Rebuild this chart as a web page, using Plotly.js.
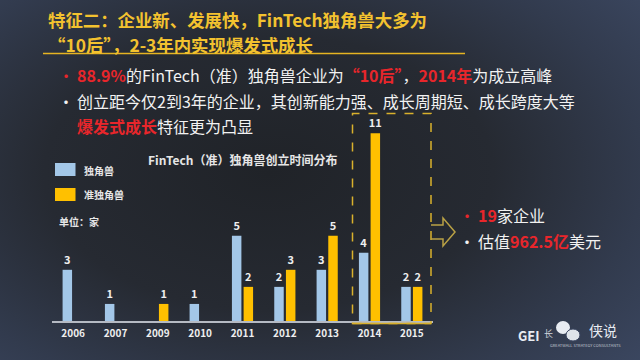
<!DOCTYPE html>
<html>
<head>
<meta charset="utf-8">
<script src="https://cdn.plot.ly/plotly-3.0.1.min.js"></script>
<style>
html,body{margin:0;padding:0;width:640px;height:360px;overflow:hidden;}
body{background:radial-gradient(ellipse 78% 85% at 42% 48%, #202328 0%, #262a32 45%, #323b4e 75%, #3c4862 100%);}
#chart{width:640px;height:360px;}
</style>
</head>
<body>
<div id="chart"></div>
<script>
// ---- data ----
const years = ['2006','2007','2009','2010','2011','2012','2013','2014','2015'];
const unicorn = [3, 1, null, 1, 5, 2, 3, 4, 2];
const quasiUnicorn = [null, null, 1, null, 2, 3, 5, 11, 2];
const seriesNames = ['独角兽', '准独角兽'];

const BLUE = '#a3c7e8', YELLOW = '#ffc000', RED = '#e8262b', GOLD = '#f3c22f';
const FONT = '"Noto Sans CJK SC", "Noto Sans", sans-serif';

// plot area pixel geometry (for decorations)
const L = 52, R = 433, T = 100, B = 321;
const X = px => (px - L) / (R - L);
const Y = py => (B - py) / (B - T);

const lbl = arr => arr.map(v => v == null ? '' : String(v));

const traces = [
  {type:'bar', name:seriesNames[0], x:years, y:unicorn, text:lbl(unicorn),
   textposition:'outside', constraintext:'none', marker:{color:BLUE}, width:0.224, offset:-0.25,
   textfont:{color:'#eeeeee', size:11, family:FONT, weight:'bold'}, cliponaxis:false, hoverinfo:'none'},
  {type:'bar', name:seriesNames[1], x:years, y:quasiUnicorn, text:lbl(quasiUnicorn),
   textposition:'outside', constraintext:'none', marker:{color:YELLOW}, width:0.224, offset:0.026,
   textfont:{color:'#eeeeee', size:11, family:FONT, weight:'bold'}, cliponaxis:false, hoverinfo:'none'}
];

function ann(px, py, text, size, color, extra){
  return Object.assign({xref:'paper', yref:'paper', x:X(px), y:Y(py), text:text,
    showarrow:false, xanchor:'left', yanchor:'middle',
    font:{family:FONT, size:size, color:color}}, extra||{});
}
const r = s => '<span style="color:'+RED+'"><b>'+s+'</b></span>';

const annotations = [
  ann(46, 19, '<b>特征二：企业新、发展快，FinTech独角兽大多为</b>', 17.4, GOLD),
  ann(46, 44, '<b>“10后”，2-3年内实现爆发式成长</b>', 17.4, GOLD),
  ann(56, 75, '•', 16, RED),
  ann(75, 75, r('88.9%')+'的FinTech（准）独角兽企业为'+r('“10后”')+'，'+r('2014年')+'为成立高峰', 16, '#f2f2f2'),
  ann(56, 101, '•', 16, '#f2f2f2'),
  ann(75, 101, '创立距今仅2到3年的企业，其创新能力强、成长周期短、成长跨度大等', 16, '#f2f2f2'),
  ann(75, 126, r('爆发式成长')+'特征更为凸显', 16, '#f2f2f2'),
  ann(146, 159, '<b>FinTech（准）独角兽创立时间分布</b>', 12, '#e6e6e6'),
  ann(82, 170, '<b>'+seriesNames[0]+'</b>', 10, '#e6e6e6'),
  ann(82, 194, '<b>'+seriesNames[1]+'</b>', 10, '#e6e6e6'),
  ann(57, 221, '<b>单位：家</b>', 10, '#e6e6e6'),
  ann(457, 215, '•', 16, RED),
  ann(476, 215, r('19')+'家企业', 16, '#f2f2f2'),
  ann(457, 241, '•', 16, '#f2f2f2'),
  ann(476, 241, '估值'+r('962.5亿')+'美元', 16, '#f2f2f2'),
  ann(516, 335, '<b>GEI</b>', 13, '#e8ecf2'),
  ann(542, 333, '长', 9, '#cfd4dc'),
  ann(587, 330, '侠说', 14, '#e8ecf2'),
  ann(548, 345, 'GREATWALL STRATEGY CONSULTANTS', 4, '#c0c6d0')
];

const shapes = [
  // title underline
  {type:'line', xref:'paper', yref:'paper', x0:X(43), x1:X(465), y0:Y(53.5), y1:Y(53.5),
   line:{color:'#e6b422', width:1.5}},
  // legend swatches
  {type:'rect', xref:'paper', yref:'paper', x0:X(55), x1:X(75.5), y0:Y(176), y1:Y(163),
   fillcolor:BLUE, line:{width:0}},
  {type:'rect', xref:'paper', yref:'paper', x0:X(55), x1:X(75.5), y0:Y(201), y1:Y(188),
   fillcolor:YELLOW, line:{width:0}},
  // highlight box 2014-2015
  {type:'rect', xref:'paper', yref:'paper', x0:X(352.5), x1:X(431), y0:Y(323.5), y1:Y(113.5),
   line:{color:'#d9b12c', width:1.5, dash:'dash'}, fillcolor:'rgba(0,0,0,0)'},
  {type:'line', xref:'paper', yref:'paper', x0:X(352.5), x1:X(431), y0:Y(323.5), y1:Y(323.5),
   line:{color:'#d9b12c', width:1.5}},
  // hollow arrow
  {type:'path', xref:'paper', yref:'paper',
   path:'M'+X(431)+','+Y(225)+' L'+X(443)+','+Y(225)+' L'+X(443)+','+Y(218)+' L'+X(455)+','+Y(232)+
        ' L'+X(443)+','+Y(246)+' L'+X(443)+','+Y(239)+' L'+X(431)+','+Y(239),
   line:{color:'#b9a145', width:1.5}, fillcolor:'rgba(0,0,0,0)'},
  // wechat-like logo bubbles
  {type:'circle', xref:'paper', yref:'paper', x0:X(556), x1:X(570), y0:Y(334), y1:Y(321),
   fillcolor:'#e8ecf2', line:{width:0}},
  {type:'circle', xref:'paper', yref:'paper', x0:X(566), x1:X(580), y0:Y(341), y1:Y(329),
   fillcolor:'#dfe4ea', line:{color:'#3a4560', width:1}}
];

const layout = {
  width:640, height:360,
  margin:{l:L, r:640-R, t:T, b:360-B, pad:0},
  paper_bgcolor:'rgba(0,0,0,0)', plot_bgcolor:'rgba(0,0,0,0)',
  barmode:'overlay', showlegend:false,
  xaxis:{type:'category', showline:true, linecolor:'#b5bac3', linewidth:1.5,
    ticks:'', showgrid:false, zeroline:false, fixedrange:true,
    tickfont:{family:FONT, size:10, color:'#eeeeee', weight:'bold'}, ticklabelstandoff:2},
  yaxis:{visible:false, range:[0, 12.95], fixedrange:true},
  annotations:annotations, shapes:shapes,
  font:{family:FONT}
};

Plotly.newPlot('chart', traces, layout, {staticPlot:true, displayModeBar:false});
</script>
</body>
</html>
